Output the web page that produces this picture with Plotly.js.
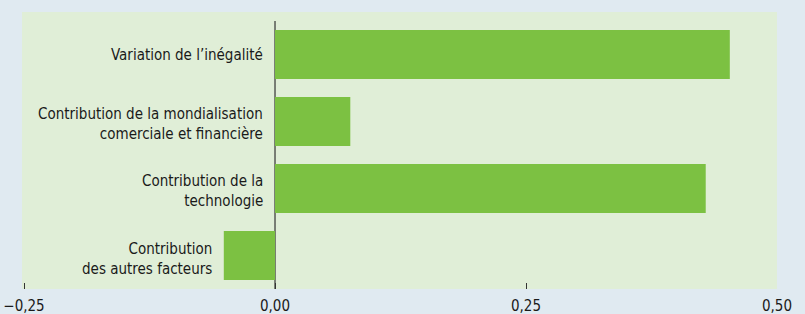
<!DOCTYPE html>
<html><head><meta charset="utf-8">
<script src="https://cdn.plot.ly/plotly-3.0.1.min.js"></script>
<style>body{margin:0;background:#e0eaf1;}</style>
</head><body>
<div id="chart" style="width:805px;height:314px;"></div>
<script>
const categories = ["Variation de l’inégalité", "Contribution de la mondialisation<br>comerciale et financière", "Contribution de la<br>technologie", "Contribution<br>des autres facteurs"];
const values = [0.453, 0.075, 0.429, -0.051];
const xTicks = [-0.25, 0, 0.25, 0.5];
const xTickLabels = ["−0,25", "0,00", "0,25", "0,50"];

const FONT = "'Liberation Sans Narrow', 'DejaVu Sans Condensed', Arial, sans-serif";
const idx = categories.map((_, i) => i);

const trace = {
  type: 'bar', orientation: 'h',
  x: values, y: idx,
  marker: {color: '#7cc142'},
  hoverinfo: 'none'
};

const annotations = categories.map((c, i) => ({
  xref: 'x', yref: 'y',
  x: Math.min(0, values[i]), y: i,
  text: c, showarrow: false,
  xanchor: 'right', yanchor: 'middle', align: 'right',
  xshift: -10, yshift: c.includes('<br>') ? -3 : -1,
  font: {family: FONT, size: 15, color: '#1a1a1a'}
}));

const layout = {
  width: 805, height: 314,
  margin: {l: 22, r: 28, t: 12, b: 25},
  paper_bgcolor: '#e0eaf1',
  plot_bgcolor: '#e0eed7',
  bargap: 0.27,
  showlegend: false,
  font: {family: FONT, size: 15, color: '#1a1a1a'},
  xaxis: {
    range: [-0.252, 0.5],
    tickvals: xTicks, ticktext: xTickLabels,
    ticks: 'inside', ticklen: 6, tickcolor: '#333', tickwidth: 1,
    ticklabelstandoff: 6,
    showgrid: false, zeroline: false, showline: false,
    tickfont: {family: FONT, size: 15, color: '#1a1a1a'},
    fixedrange: true
  },
  yaxis: {
    range: [3.5, -0.634],
    showticklabels: false, ticks: '',
    showgrid: false, zeroline: false, showline: false,
    fixedrange: true
  },
  annotations: annotations,
  shapes: [{
    type: 'line', layer: 'below', xref: 'x', yref: 'y',
    x0: 0, x1: 0, y0: -0.5, y1: 3.5,
    line: {color: '#333', width: 1.2}
  }]
};

Plotly.newPlot('chart', [trace], layout, {staticPlot: true, displayModeBar: false});
</script>
</body></html>
